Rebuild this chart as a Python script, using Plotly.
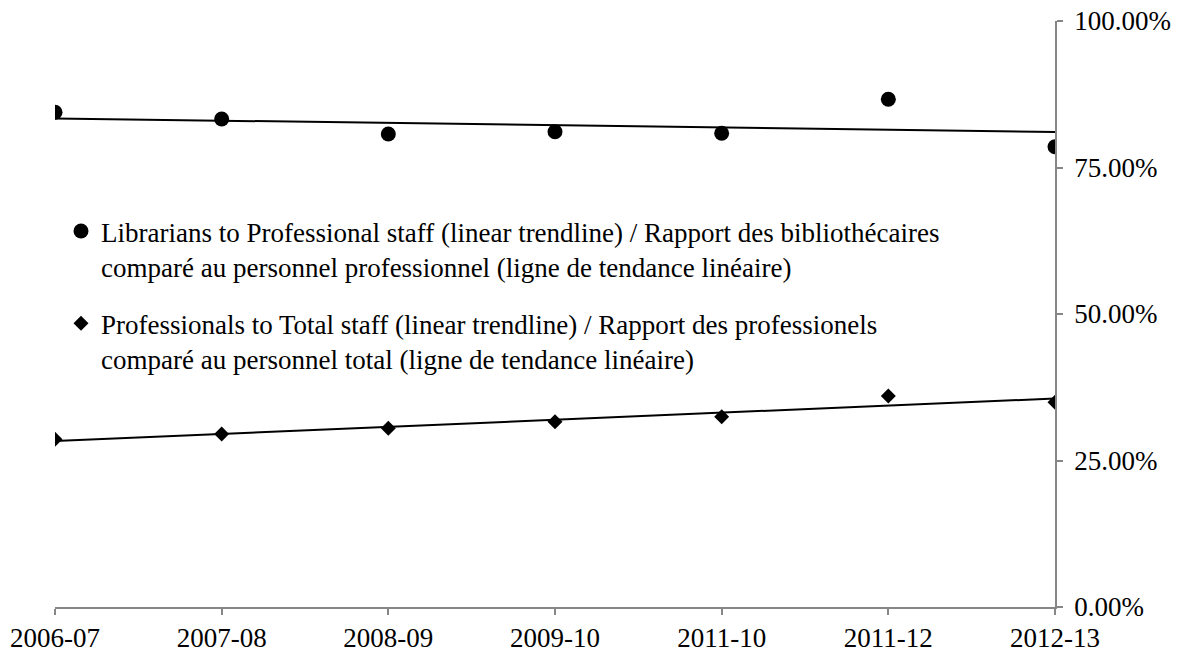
import numpy as np
import plotly.graph_objects as go

categories = ["2006-07", "2007-08", "2008-09", "2009-10", "2011-10", "2011-12", "2012-13"]
librarians_to_professional = [0.8442, 0.8328, 0.8072, 0.8111, 0.8084, 0.8664, 0.7855]
professionals_to_total = [0.2862, 0.2952, 0.3049, 0.3162, 0.3247, 0.3601, 0.3493]
y_ticks = [0, 0.25, 0.5, 0.75, 1.0]

name_lib = ("Librarians to Professional staff (linear trendline) / Rapport des biblioth\u00e9caires<br>"
            "compar\u00e9 au personnel professionnel (ligne de tendance lin\u00e9aire)")
name_pro = ("Professionals to Total staff (linear trendline) / Rapport des professionels<br>"
            "compar\u00e9 au personnel total (ligne de tendance lin\u00e9aire)")

xs = np.arange(len(categories))

def trend(vals):
    m, b = np.polyfit(xs, vals, 1)
    return m * xs + b

FONT = "Liberation Serif"
FS = 27

fig = go.Figure()
fig.add_trace(go.Scatter(x=xs, y=trend(librarians_to_professional), mode="lines",
                         line=dict(color="black", width=2), showlegend=False, hoverinfo="skip"))
fig.add_trace(go.Scatter(x=xs, y=trend(professionals_to_total), mode="lines",
                         line=dict(color="black", width=2), showlegend=False, hoverinfo="skip"))
fig.add_trace(go.Scatter(x=xs, y=librarians_to_professional, mode="markers", name=name_lib,
                         legendgroup="a",
                         marker=dict(symbol="circle", size=15, color="black")))
fig.add_trace(go.Scatter(x=xs, y=professionals_to_total, mode="markers", name=name_pro,
                         legendgroup="b",
                         marker=dict(symbol="diamond", size=11.5, color="black")))

fig.update_layout(
    width=1181, height=654,
    margin=dict(l=55, r=126, t=21, b=47, autoexpand=False),
    paper_bgcolor="white", plot_bgcolor="white",
    font=dict(family=FONT, size=FS, color="black"),
    showlegend=True,
    legend=dict(x=0.006, y=0.6826, xanchor="left", yanchor="top", valign="top",
                bgcolor="rgba(0,0,0,0)", tracegroupgap=19,
                font=dict(family=FONT, size=FS, color="black"),
                itemwidth=30),
    xaxis=dict(range=[0, 6], tickmode="array", tickvals=list(xs), ticktext=categories,
               automargin=False, ticklabeloverflow="allow",
               showgrid=False, zeroline=False, showline=True, linecolor="#868686", linewidth=1.5,
               ticks="outside", ticklen=6, tickcolor="#868686", tickwidth=1.5,
               tickfont=dict(family=FONT, size=FS, color="black")),
    yaxis=dict(range=[0, 1], side="right", tickmode="array", tickvals=y_ticks,
               automargin=False, ticklabeloverflow="allow", ticklabelstandoff=6,
               tickformat=".2%", showgrid=False, zeroline=False, showline=True,
               linecolor="#868686", linewidth=1.5, ticks="outside", ticklen=6,
               tickcolor="#868686", tickwidth=1.5,
               tickfont=dict(family=FONT, size=FS, color="black")),
)

fig.write_html("out.html", config={"displayModeBar": False},
               post_script="document.body.style.margin='0';document.body.style.overflow='hidden';")
